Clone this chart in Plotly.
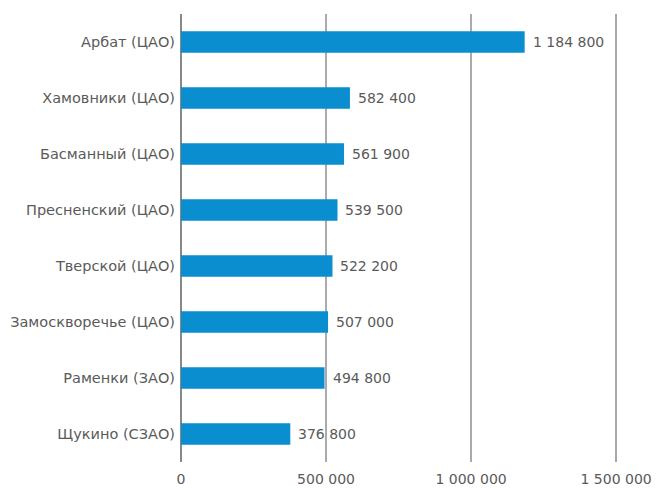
import plotly.graph_objects as go

districts = ["Арбат (ЦАО)", "Хамовники (ЦАО)", "Басманный (ЦАО)", "Пресненский (ЦАО)",
             "Тверской (ЦАО)", "Замоскворечье (ЦАО)", "Раменки (ЗАО)", "Щукино (СЗАО)"]
values = [1184800, 582400, 561900, 539500, 522200, 507000, 494800, 376800]
value_labels = ["1 184 800", "582 400", "561 900", "539 500", "522 200", "507 000", "494 800", "376 800"]
tick_vals = [0, 500000, 1000000, 1500000]
tick_text = ["0", "500 000", "1 000 000", "1 500 000"]

FONT = "DejaVu Sans"
GREY = "#5a5a5a"

fig = go.Figure(go.Bar(
    x=values, y=districts, orientation="h",
    marker=dict(color="#0A8ED0", line=dict(width=0)),
    width=0.38,
    hoverinfo="x+y",
))

for d, v, t in zip(districts, values, value_labels):
    fig.add_annotation(x=v, y=d, text=t, showarrow=False, xanchor="left",
                       xshift=6, font=dict(size=14, color=GREY, family=FONT))

fig.update_layout(
    width=657, height=490,
    margin=dict(l=181, r=38, t=14, b=28),
    plot_bgcolor="white", paper_bgcolor="white",
    showlegend=False,
    font=dict(family=FONT, size=14, color=GREY),
    xaxis=dict(range=[0, 1510000], tickvals=tick_vals, ticktext=tick_text,
               automargin=False,
               showgrid=True, gridcolor="#aaaaaa", gridwidth=1.5,
               zeroline=True, zerolinecolor="#888888", zerolinewidth=2,
               showline=False, ticks="", ticklabelstandoff=7,
               tickfont=dict(size=14, color=GREY, family=FONT)),
    yaxis=dict(autorange="reversed", showgrid=False, ticks="", showline=False,
               automargin=False, ticklabelstandoff=5,
               tickfont=dict(size=14.5, color=GREY, family=FONT)),
)

fig.write_html("out.html")
